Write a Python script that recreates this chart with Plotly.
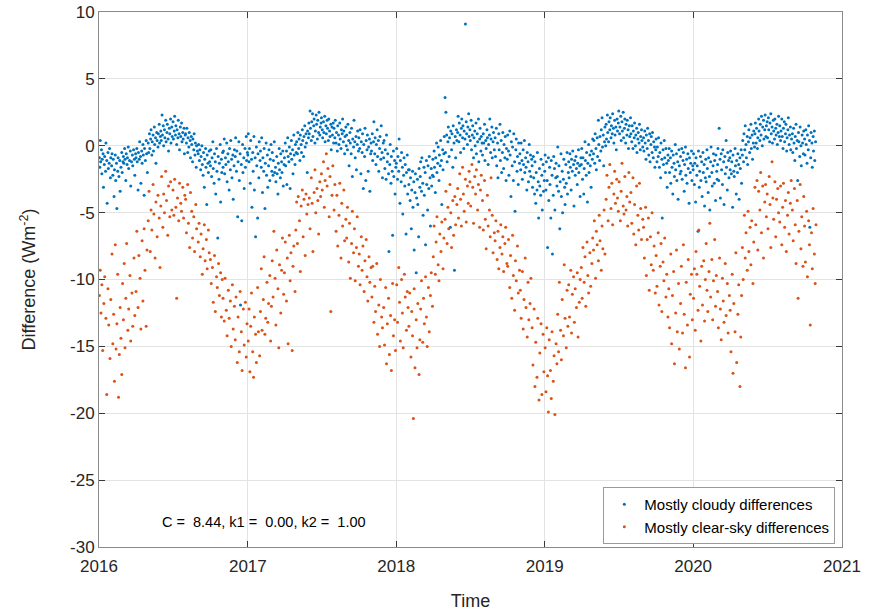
import pandas as pd
import plotly.graph_objects as go

# Daily flux differences, stored per year as (day of year, difference in W m^-2)
cloudy_2016 = [
    (2,-0.9),(3,-1.6),(4,0.4),(5,-1.2),(7,-0.3),(8,-2.1),(9,-1.0),(11,-0.6),(12,-3.1),(14,-1.4),(15,-0.8),(17,-1.9),(18,0.2),(20,-1.1),(21,-4.3),(23,-0.5),(24,-1.7),(26,-1.3),(27,-0.2),(29,-2.4),(30,-0.9),
    (32,-1.5),(33,-0.6),(35,-2.2),(36,-1.0),(38,-3.8),(39,-1.8),(41,-0.7),(42,-2.6),(44,-1.3),(45,-4.7),(47,-1.9),(48,-0.9),(50,-2.3),(52,-1.1),(53,-3.4),(55,-1.6),(57,-0.5),(58,-2.0),(60,-1.2),
    (61,-0.8),(62,-1.3),(64,-0.2),(65,-1.0),(67,-2.6),(68,-0.6),(70,-1.4),(71,-0.9),(73,-0.1),(74,-1.7),(76,-1.1),(78,-0.4),(79,-3.0),(81,-1.2),(83,-0.7),(84,-1.5),(86,-0.3),(88,-1.0),(89,-2.2),(91,-0.6),
    (92,-0.9),(94,-0.2),(95,-1.2),(97,-3.3),(98,-0.5),(100,-1.0),(101,0.3),(103,-0.8),(104,-2.8),(106,-0.4),(107,-1.3),(109,0.1),(110,-0.7),(112,-3.7),(113,-0.2),(115,-1.1),(117,0.4),(118,-0.6),(120,-2.0),
    (122,0.2),(123,-0.5),(125,0.9),(126,-0.2),(128,0.5),(129,1.2),(131,-0.7),(132,0.3),(134,0.8),(135,-0.4),(137,1.4),(138,0.1),(140,0.6),(141,-1.3),(143,1.0),(144,0.4),(146,-0.1),(147,0.9),(149,1.6),(150,0.2),(152,0.7),
    (153,1.1),(154,0.4),(156,2.3),(157,0.8),(159,1.5),(160,0.0),(162,1.2),(163,0.6),(165,1.9),(166,0.3),(168,1.0),(169,1.6),(171,0.5),(172,-0.4),(174,1.3),(175,0.9),(177,2.0),(178,0.2),(180,1.4),(181,0.7),
    (183,1.8),(184,0.5),(186,1.1),(187,2.2),(189,0.8),(190,1.5),(192,0.1),(193,1.2),(195,0.6),(196,1.9),(198,0.9),(199,-0.3),(201,1.4),(202,0.7),(204,1.7),(205,0.3),(207,1.0),(208,0.5),(210,1.3),(211,-0.6),(213,0.8),
    (214,0.9),(216,0.2),(217,1.3),(219,-0.5),(220,0.6),(222,-0.1),(223,1.0),(225,0.4),(226,-0.9),(228,0.7),(229,0.1),(231,-1.2),(232,0.5),(234,-0.3),(235,0.9),(237,-0.7),(238,0.2),(240,-1.6),(241,0.0),(243,-0.4),
    (245,-0.6),(246,0.1),(248,-1.1),(249,-0.3),(251,-1.8),(252,-0.8),(254,0.0),(255,-1.4),(257,-2.2),(258,-0.5),(260,-3.1),(261,-1.0),(263,-0.2),(264,-1.6),(266,-4.4),(267,-0.7),(269,-1.3),(270,-2.0),(272,-0.4),(273,-1.2),
    (275,-1.5),(276,-0.3),(278,-2.3),(279,-0.9),(281,0.3),(282,-1.7),(284,-2.8),(285,-0.6),(287,-1.2),(288,-3.6),(290,-0.2),(291,-1.9),(293,-6.9),(294,-0.8),(296,-2.5),(297,-1.3),(299,0.1),(300,-4.2),(302,-1.0),(303,-2.0),(305,-0.5),
    (306,-1.6),(307,-0.4),(309,0.5),(310,-2.1),(312,-0.9),(313,-1.4),(315,0.2),(316,-2.7),(318,-0.6),(319,-1.2),(321,-3.3),(322,-0.2),(324,-1.8),(325,0.4),(327,-1.0),(328,-2.4),(330,-0.7),(331,-4.0),(333,-1.5),(334,-0.3),
    (336,-0.8),(337,0.6),(339,-1.9),(340,-0.4),(342,-5.3),(343,-1.2),(345,0.3),(346,-2.6),(348,-0.6),(349,-11.9),(351,-1.4),(352,-5.6),(354,0.1),(355,-2.0),(357,-0.9),(358,-3.2),(360,-0.2),(361,-1.6),(363,0.7),(364,-1.1),(366,-0.5),
]
clear_2016 = [
    (2,-11.2),(4,-9.3),(6,-12.5),(8,-10.4),(10,-15.3),(13,-11.8),(15,-9.8),(18,-12.9),(20,-18.6),(23,-10.7),(25,-13.4),(28,-15.9),(30,-11.5),
    (33,-8.1),(35,-14.8),(37,-12.6),(39,-17.6),(41,-7.4),(43,-15.2),(45,-13.3),(47,-9.6),(49,-18.8),(51,-15.6),(53,-12.1),(55,-14.4),(57,-17.1),(59,-10.3),
    (61,-13.0),(63,-8.8),(65,-15.1),(67,-11.4),(69,-7.3),(72,-13.8),(74,-12.2),(77,-9.7),(79,-14.6),(82,-11.0),(84,-13.5),(87,-8.4),(89,-12.7),
    (92,-10.9),(94,-6.4),(97,-12.1),(99,-8.2),(102,-9.9),(104,-13.7),(107,-7.1),(109,-11.6),(112,-6.2),(114,-9.3),(117,-13.5),(119,-7.8),
    (122,-5.6),(124,-3.4),(127,-7.9),(129,-4.8),(131,-6.3),(134,-2.9),(136,-5.1),(139,-8.4),(141,-4.2),(144,-6.8),(146,-3.7),(149,-5.4),(151,-9.1),
    (153,-4.5),(155,-2.3),(158,-6.1),(160,-3.6),(162,-5.0),(165,-1.9),(167,-4.1),(170,-6.7),(172,-3.0),(175,-5.3),(177,-2.7),(180,-4.8),
    (183,-3.3),(185,-5.2),(187,-2.5),(190,-4.6),(192,-11.4),(194,-3.9),(197,-5.6),(199,-2.8),(202,-4.3),(204,-4.9),(207,-3.1),(209,-5.4),(212,-3.7),
    (214,-4.0),(216,-6.5),(219,-2.9),(221,-5.8),(224,-7.6),(226,-3.5),(229,-4.9),(231,-6.9),(234,-5.3),(236,-7.9),(239,-4.4),(241,-6.2),
    (245,-7.2),(247,-5.8),(250,-8.3),(252,-6.6),(255,-9.6),(257,-7.7),(260,-5.9),(262,-8.6),(265,-7.0),(267,-9.2),(270,-6.3),(272,-8.0),
    (275,-8.5),(277,-10.3),(280,-9.1),(282,-11.7),(285,-8.2),(287,-12.4),(290,-9.8),(292,-10.6),(295,-8.8),(297,-11.2),(300,-9.5),(302,-12.8),(304,-10.0),
    (306,-11.4),(309,-13.1),(311,-9.9),(314,-12.3),(316,-14.2),(319,-10.8),(321,-12.9),(324,-11.6),(326,-15.0),(329,-10.4),(331,-13.7),(334,-12.0),
    (336,-14.5),(338,-11.3),(341,-16.2),(343,-12.8),(346,-15.4),(348,-10.9),(351,-13.9),(353,-16.8),(356,-12.2),(358,-14.9),(361,-11.7),(363,-15.8),(365,-13.3),
]

cloudy_2017 = [
    (1,-0.7),(2,0.9),(4,-1.2),(5,-0.2),(7,-2.8),(8,0.4),(10,-1.0),(11,-4.6),(13,-0.5),(14,-1.9),(16,0.7),(17,-3.3),(19,-0.9),(20,-6.8),(22,-0.1),(23,-1.5),(25,-5.4),(26,-0.6),(28,-2.4),(29,0.3),(31,-1.1),
    (32,-0.4),(34,-1.6),(35,0.6),(37,-3.5),(38,-0.9),(40,-1.9),(41,-0.2),(43,-4.7),(44,-1.3),(46,0.2),(47,-2.2),(49,-0.7),(50,-3.1),(52,-1.5),(53,-0.3),(55,-2.6),(56,-1.0),(58,0.1),
    (60,-1.9),(61,-0.5),(63,-2.2),(64,-1.1),(66,0.3),(67,-2.0),(69,-1.6),(70,-2.7),(72,-0.8),(73,-2.1),(75,-3.6),(76,-1.3),(78,-0.2),(79,-1.8),(81,-2.4),(82,-0.6),(84,-1.2),(85,-2.0),(87,-0.4),(88,-3.0),(90,-1.4),
    (91,-0.9),(93,0.2),(94,-1.5),(96,-0.4),(97,-2.9),(99,0.6),(100,-0.8),(102,-1.2),(103,-0.1),(105,-3.2),(106,-0.6),(108,0.4),(109,-1.0),(111,-0.3),(112,-2.1),(114,0.8),(115,-0.7),(117,-1.4),(118,0.1),(120,-0.5),
    (121,0.3),(123,-0.6),(124,1.0),(126,-0.2),(127,0.5),(129,-1.1),(130,0.8),(132,0.1),(133,-0.5),(135,1.2),(136,0.4),(138,-0.8),(139,0.7),(141,1.5),(142,-0.1),(144,0.9),(145,0.2),(147,-2.0),(148,1.1),(150,0.6),(151,1.7),
    (152,0.9),(154,2.6),(155,1.3),(157,0.4),(158,1.8),(160,2.4),(161,0.7),(163,1.5),(164,2.0),(166,0.2),(167,1.1),(169,2.3),(170,1.6),(172,0.5),(173,1.9),(175,1.0),(176,2.5),(178,0.8),(179,1.4),(181,1.7),
    (182,2.1),(184,1.2),(185,0.6),(187,1.8),(188,1.0),(190,2.2),(191,0.3),(193,1.5),(194,0.9),(196,1.9),(197,1.3),(199,0.4),(200,2.0),(202,1.1),(203,0.7),(205,1.6),(206,-0.3),(208,1.4),(209,0.8),(211,1.7),(212,0.2),
    (213,1.3),(215,0.6),(216,1.9),(218,0.2),(219,1.0),(221,-0.4),(222,1.5),(224,0.8),(225,0.1),(227,1.7),(228,0.5),(230,-0.2),(231,1.2),(233,0.9),(234,2.0),(236,0.3),(237,1.1),(239,-0.6),(240,0.7),(242,1.4),(243,0.0),
    (244,0.8),(246,-0.3),(247,1.6),(249,0.4),(250,-1.5),(252,1.0),(253,0.2),(255,-0.6),(256,1.3),(258,-2.3),(259,0.5),(261,-0.1),(262,1.9),(264,0.3),(265,-0.9),(267,0.7),(268,-1.8),(270,0.1),(271,1.1),(273,-0.4),
    (274,0.6),(276,-0.2),(277,1.2),(279,-2.1),(280,0.3),(282,-0.5),(283,0.9),(285,-3.2),(286,0.1),(288,-0.8),(289,1.3),(291,-2.6),(292,0.4),(294,-0.3),(295,0.8),(297,-1.9),(298,-0.1),(300,0.5),(301,-3.4),(303,-0.6),(304,0.2),
    (305,-0.4),(307,0.9),(308,-1.1),(310,0.3),(311,1.8),(313,-0.6),(314,0.6),(316,-1.4),(317,0.1),(319,1.2),(320,-0.8),(322,0.4),(323,-1.9),(325,-0.2),(326,0.7),(328,-1.0),(329,1.5),(331,-0.5),(332,-2.4),(334,0.2),
    (335,-0.9),(336,0.4),(338,-1.7),(339,-0.3),(341,-2.5),(342,0.8),(344,-1.2),(345,-0.6),(347,-2.1),(348,-7.9),(350,-1.4),(351,0.1),(353,-2.8),(354,-0.8),(356,-1.9),(357,-6.7),(359,-0.4),(360,-2.3),(362,-1.1),(363,-3.6),(365,-1.6),
]
clear_2017 = [
    (2,-14.6),(4,-12.2),(6,-16.9),(8,-13.5),(10,-11.0),(13,-15.4),(15,-17.3),(17,-12.8),(20,-14.1),(22,-16.2),(25,-10.6),(27,-13.9),(30,-15.7),
    (32,-12.4),(34,-9.2),(36,-13.8),(39,-11.5),(41,-8.3),(43,-14.1),(45,-12.9),(48,-10.2),(50,-13.2),(52,-11.8),(55,-9.7),(57,-14.6),(59,-12.0),
    (61,-8.6),(63,-11.3),(65,-6.4),(68,-9.9),(70,-13.4),(72,-7.8),(75,-10.7),(77,-15.1),(79,-8.9),(82,-12.5),(84,-9.3),(86,-6.9),(89,-11.1),
    (91,-9.5),(93,-7.2),(96,-11.6),(98,-8.4),(100,-14.8),(103,-6.7),(105,-10.1),(107,-8.0),(110,-15.3),(112,-9.0),(114,-7.5),(117,-10.9),(119,-6.3),
    (121,-4.2),(123,-7.3),(125,-3.8),(128,-5.6),(130,-9.4),(132,-4.5),(135,-3.3),(137,-6.8),(139,-4.0),(142,-8.2),(144,-3.6),(146,-5.1),(149,-4.4),
    (152,-3.9),(154,-6.2),(157,-2.4),(159,-4.3),(161,-7.9),(164,-3.5),(166,-1.8),(168,-5.0),(171,-3.2),(173,-4.1),(175,-6.6),(178,-2.7),(180,-3.8),
    (182,-2.1),(184,-3.3),(187,-1.2),(189,-4.6),(191,-2.6),(194,-0.6),(196,-3.0),(198,-1.7),(201,-5.3),(203,-2.3),(205,-12.4),(208,-3.7),(210,-1.5),
    (213,-4.8),(215,-2.9),(218,-6.4),(220,-3.7),(222,-7.5),(225,-5.2),(227,-2.8),(230,-8.4),(232,-4.3),(234,-6.0),(237,-3.3),(239,-7.1),(242,-5.5),
    (244,-6.9),(246,-4.6),(249,-8.7),(251,-5.8),(253,-9.9),(256,-7.3),(258,-4.9),(261,-8.0),(263,-6.2),(265,-10.1),(268,-7.6),(270,-5.3),(273,-9.0),
    (275,-8.1),(277,-10.4),(280,-6.8),(282,-9.3),(284,-7.5),(287,-10.9),(289,-8.6),(292,-7.0),(294,-9.8),(296,-11.6),(299,-8.3),(301,-10.2),(304,-9.1),
    (306,-11.3),(308,-9.0),(311,-13.2),(313,-10.5),(315,-12.4),(318,-8.8),(320,-14.1),(323,-11.9),(325,-15.0),(327,-10.0),(330,-12.8),(332,-13.6),
    (335,-12.1),(337,-14.9),(340,-10.6),(342,-16.3),(344,-13.3),(347,-11.4),(349,-15.6),(352,-12.7),(354,-16.8),(357,-10.3),(359,-14.2),(362,-13.0),(364,-15.3),
]

cloudy_2018 = [
    (1,-1.3),(2,-0.2),(4,-2.5),(5,-0.8),(7,-1.9),(8,0.5),(10,-4.3),(11,-1.1),(13,-2.7),(14,-0.5),(16,-1.6),(17,-5.1),(19,-2.2),(20,-0.9),(22,-3.0),(23,-1.4),(25,-6.6),(26,-2.0),(28,-0.7),(29,-3.6),(31,-1.8),
    (32,-2.9),(33,-1.8),(35,-4.1),(36,-2.4),(38,-6.2),(39,-3.3),(41,-1.9),(42,-4.6),(44,-2.7),(45,-7.8),(47,-3.5),(48,-2.1),(50,-9.5),(51,-3.9),(53,-2.5),(54,-4.4),(56,-6.8),(57,-1.7),(59,-3.1),
    (60,-2.3),(61,-1.2),(63,-3.4),(64,-0.9),(66,-2.8),(67,-5.2),(69,-1.6),(70,-3.7),(72,-2.0),(73,-7.4),(75,-1.1),(76,-2.9),(78,-4.8),(79,-1.5),(81,-3.2),(82,-0.8),(84,-2.4),(85,-6.0),(87,-1.7),(88,-3.0),(90,-2.2),
    (91,-1.0),(92,-2.3),(94,-0.4),(95,-1.6),(97,-3.5),(98,-0.9),(100,0.2),(101,-2.0),(103,-1.3),(104,-0.1),(106,-2.6),(107,-0.7),(109,-1.5),(110,0.4),(112,-1.1),(113,-4.4),(115,-0.3),(116,-1.8),(118,-0.6),(119,0.7),
    (121,3.6),(122,-0.5),(123,2.5),(125,0.8),(126,-1.2),(128,0.3),(129,1.4),(131,-0.8),(132,0.6),(134,-6.1),(135,1.1),(137,-0.3),(138,0.9),(140,-1.6),(141,1.5),(143,0.2),(144,-9.3),(146,0.7),(147,-0.9),(149,1.2),(150,0.4),
    (152,1.0),(153,2.2),(155,0.3),(156,1.7),(158,0.8),(159,-0.5),(161,1.3),(162,2.0),(164,0.6),(165,1.5),(167,-0.2),(168,1.1),(170,0.5),(171,9.1),(173,1.8),(174,0.9),(176,0.1),(177,1.4),(179,2.4),(180,0.7),
    (182,1.2),(183,0.4),(185,1.9),(186,-0.3),(188,0.8),(189,1.5),(191,-0.9),(192,0.6),(194,1.1),(195,0.0),(197,1.7),(198,-0.6),(200,0.9),(201,0.3),(203,2.0),(204,-1.2),(206,0.5),(207,1.3),(209,-0.4),(210,0.7),(212,0.2),
    (213,-0.7),(215,0.9),(216,0.2),(218,1.6),(219,-1.1),(221,0.4),(222,-0.2),(224,1.2),(225,0.6),(227,-1.4),(228,0.1),(230,0.8),(231,2.0),(233,-0.5),(234,0.5),(236,1.4),(237,-0.9),(239,0.3),(240,1.0),(242,-0.3),
    (244,0.6),(245,-0.8),(247,1.3),(248,-1.5),(250,0.2),(251,-2.4),(253,0.9),(254,-0.3),(256,1.6),(257,-1.1),(259,0.4),(260,-2.0),(262,-0.5),(263,1.0),(265,-1.7),(266,0.1),(268,-0.9),(269,0.7),(271,-2.6),(272,-0.2),
    (274,-1.0),(275,0.8),(277,-0.4),(278,-2.2),(280,1.1),(281,-0.7),(283,-3.8),(284,0.3),(286,-1.5),(287,-0.1),(289,-2.6),(290,0.9),(292,-1.2),(293,-4.9),(295,-0.3),(296,0.5),(298,-1.9),(299,-0.8),(301,-2.9),(302,0.2),(304,-1.3),
    (305,-0.6),(307,-1.8),(308,0.2),(310,-1.1),(311,-2.5),(313,-0.3),(314,-1.4),(316,0.4),(317,-2.0),(319,-0.9),(320,-1.6),(322,-3.3),(323,-0.5),(325,-1.2),(326,-2.7),(328,0.1),(329,-1.9),(331,-0.7),(332,-2.3),(334,-1.0),
    (335,-1.5),(336,-3.1),(338,-0.8),(339,-2.4),(341,-3.6),(342,-1.2),(344,-4.3),(345,-2.0),(347,-3.3),(348,-0.5),(350,-2.7),(351,-5.4),(353,-1.7),(354,-3.0),(356,-3.7),(357,-1.0),(359,-2.2),(360,-4.8),(362,-1.4),(363,-3.4),(365,-2.6),
]
clear_2018 = [
    (2,-10.4),(4,-13.2),(7,-9.1),(9,-11.7),(11,-14.6),(14,-10.0),(16,-12.5),(18,-15.1),(21,-9.6),(23,-11.3),(26,-13.8),(28,-10.9),(30,-12.1),
    (32,-13.5),(34,-11.0),(37,-15.8),(39,-12.4),(41,-14.2),(43,-20.4),(45,-10.7),(47,-16.6),(50,-13.0),(52,-15.1),(54,-11.8),(57,-17.1),(59,-14.5),
    (61,-12.2),(63,-10.1),(66,-14.7),(68,-11.4),(70,-13.3),(73,-9.8),(75,-12.8),(77,-15.0),(80,-10.6),(82,-13.9),(85,-11.2),(87,-9.5),(90,-12.0),
    (92,-8.3),(94,-6.0),(97,-9.6),(99,-7.2),(101,-5.3),(104,-8.9),(106,-10.1),(108,-6.6),(111,-7.9),(113,-5.7),(116,-9.2),(118,-6.9),
    (121,-5.5),(123,-3.4),(126,-7.3),(128,-4.6),(130,-6.2),(133,-2.9),(135,-5.0),(137,-7.6),(140,-4.1),(142,-6.7),(145,-3.8),(147,-5.9),(150,-4.4),
    (152,-3.2),(154,-5.4),(157,-2.1),(159,-4.0),(161,-6.0),(164,-1.6),(166,-3.6),(168,-4.9),(171,-2.5),(173,-5.7),(176,-3.0),(178,-4.3),(180,-1.9),
    (182,-2.7),(184,-4.5),(187,-1.4),(189,-3.1),(191,-5.8),(194,-2.3),(196,-3.6),(198,-1.8),(201,-4.8),(203,-2.9),(206,-6.1),(208,-3.3),(210,-2.2),
    (213,-4.1),(215,-6.3),(218,-2.6),(220,-5.5),(222,-7.7),(225,-3.7),(227,-6.0),(230,-4.8),(232,-6.8),(234,-2.4),(237,-5.2),(239,-8.0),(242,-6.5),
    (244,-7.1),(246,-5.6),(249,-8.5),(251,-6.4),(253,-9.2),(256,-7.6),(258,-5.9),(261,-8.1),(263,-6.8),(265,-9.4),(268,-7.3),(270,-6.1),(273,-8.8),
    (275,-9.0),(277,-7.0),(280,-10.6),(282,-8.2),(285,-11.4),(287,-6.7),(289,-9.7),(292,-12.3),(294,-8.6),(296,-10.1),(299,-7.5),(301,-11.0),(304,-9.3),
    (306,-10.8),(308,-12.9),(311,-9.4),(313,-13.7),(315,-11.5),(318,-8.4),(320,-12.1),(323,-14.3),(325,-10.2),(327,-13.0),(330,-11.8),(332,-9.9),
    (335,-13.6),(337,-16.4),(340,-12.2),(342,-18.0),(344,-14.7),(347,-17.3),(349,-12.9),(352,-19.0),(354,-15.5),(357,-13.3),(359,-18.6),(362,-14.1),(364,-16.9),
]

cloudy_2019 = [
    (1,-1.9),(2,-0.7),(4,-3.3),(5,-1.2),(7,-2.6),(8,-7.6),(10,-0.9),(11,-4.1),(13,-1.6),(14,-2.9),(16,-5.4),(17,-1.1),(19,-2.2),(20,-8.1),(22,-3.7),(23,-0.8),(25,-1.7),(26,-4.8),(28,-2.4),(29,-1.3),(31,-3.0),
    (32,-2.3),(33,-0.1),(35,-3.4),(36,-1.5),(38,-6.2),(39,-2.7),(41,-0.6),(42,-3.8),(44,-1.9),(45,-5.0),(47,-2.5),(48,-1.0),(50,-3.1),(51,-4.4),(53,-1.4),(54,-2.8),(56,-0.5),(57,-3.6),(59,-2.0),
    (60,-1.2),(61,-2.4),(63,-0.6),(64,-1.6),(66,-3.3),(67,-1.0),(69,-1.9),(70,-0.4),(72,-1.4),(73,-4.5),(75,-1.1),(76,-2.2),(78,-0.8),(79,-1.7),(81,-2.9),(82,-1.3),(84,-0.3),(85,-2.0),(87,-1.5),(88,-3.8),(90,-0.9),
    (91,-1.4),(92,-0.2),(94,-2.5),(95,-0.9),(97,-3.6),(98,-1.7),(100,0.3),(101,-1.1),(103,-2.2),(104,-0.5),(106,-4.2),(107,-1.3),(109,0.1),(110,-2.0),(112,-0.7),(113,-1.5),(115,-3.1),(116,-0.4),(118,-1.0),(119,0.5),
    (121,-0.6),(122,0.4),(124,-1.3),(125,0.9),(127,-0.2),(128,-1.8),(130,0.6),(131,-0.8),(133,1.9),(134,0.1),(136,-1.1),(137,0.7),(139,-0.4),(140,1.2),(142,2.1),(143,-0.1),(145,0.8),(146,-1.5),(148,0.3),(149,1.4),(151,0.0),
    (152,1.6),(153,0.5),(155,2.3),(156,1.0),(158,0.3),(159,1.8),(161,1.2),(162,2.1),(164,0.6),(165,1.5),(167,0.9),(168,2.4),(170,1.3),(171,0.2),(173,1.9),(174,0.8),(176,1.4),(177,-0.3),(179,2.0),(180,1.1),
    (182,1.7),(183,2.6),(185,0.9),(186,1.4),(188,2.2),(189,0.4),(191,1.8),(192,1.1),(194,2.5),(195,0.6),(197,1.3),(198,2.0),(200,0.2),(201,1.6),(203,0.8),(204,1.9),(206,1.2),(207,-0.2),(209,1.5),(210,0.7),(212,2.1),
    (213,0.9),(215,0.3),(216,1.5),(218,-0.2),(219,1.1),(221,0.6),(222,1.7),(224,0.0),(225,0.8),(227,1.3),(228,-0.5),(230,0.5),(231,1.0),(233,0.2),(234,1.6),(236,-0.3),(237,0.7),(239,1.2),(240,0.4),(242,-0.1),
    (244,0.6),(245,-0.4),(247,1.1),(248,0.2),(250,-1.0),(251,0.8),(253,-0.2),(254,1.3),(256,0.4),(257,-0.7),(259,0.9),(260,-1.2),(262,0.1),(263,0.7),(265,-0.5),(266,1.0),(268,-0.9),(269,0.3),(271,-0.1),(272,-1.6),
    (274,-0.3),(275,0.5),(277,-1.2),(278,-0.1),(280,-0.8),(281,0.6),(283,-1.6),(284,-0.5),(286,-2.4),(287,0.2),(289,-1.0),(290,-5.4),(292,-0.3),(293,-1.4),(295,0.4),(296,-0.9),(298,-2.0),(299,-0.2),(301,-1.3),(302,-3.1),(304,-0.7),
    (305,-1.1),(307,-0.2),(308,-2.0),(310,-0.9),(311,-2.8),(313,-0.4),(314,-1.6),(316,-3.6),(317,-0.7),(319,-1.3),(320,-2.3),(322,0.1),(323,-1.8),(325,-0.6),(326,-2.6),(328,-1.2),(329,-4.0),(331,-0.3),(332,-1.5),(334,-2.1),
    (335,-0.8),(336,-1.9),(338,-0.2),(339,-2.5),(341,-1.1),(342,-0.5),(344,-3.4),(345,-1.4),(347,-0.1),(348,-2.2),(350,-1.0),(351,-2.8),(353,-0.6),(354,-1.7),(356,-4.3),(357,-0.9),(359,-2.0),(360,-1.3),(362,-0.4),(363,-2.6),(365,-1.5),
]
clear_2019 = [
    (2,-15.1),(4,-18.4),(6,-13.6),(8,-17.2),(10,-19.9),(12,-14.5),(15,-16.8),(17,-18.9),(19,-13.9),(22,-17.6),(24,-15.7),(26,-20.1),(29,-14.8),(31,-16.3),
    (33,-12.6),(35,-15.4),(37,-10.2),(40,-13.8),(42,-16.0),(44,-11.5),(47,-14.2),(49,-8.9),(51,-12.9),(54,-15.1),(56,-10.8),(58,-13.5),
    (60,-10.4),(62,-12.8),(65,-9.3),(67,-14.0),(69,-11.1),(72,-9.8),(74,-13.2),(76,-10.7),(79,-12.1),(81,-9.5),(83,-14.3),(86,-11.7),(88,-10.0),
    (91,-9.1),(93,-11.4),(95,-7.6),(98,-10.2),(100,-8.3),(102,-12.0),(105,-7.2),(107,-9.7),(109,-11.0),(112,-8.0),(114,-10.5),(117,-8.8),(119,-6.9),
    (121,-7.8),(123,-5.6),(126,-9.9),(128,-6.4),(130,-7.4),(133,-8.6),(135,-5.2),(137,-7.1),(140,-9.3),(142,-6.0),(144,-7.7),(147,-4.8),(149,-8.1),
    (152,-4.0),(154,-2.2),(157,-5.6),(159,-3.1),(161,-1.4),(164,-4.7),(166,-2.8),(168,-5.9),(171,-3.6),(173,-1.9),(175,-4.3),(178,-2.5),(180,-3.9),
    (182,-4.9),(184,-2.7),(187,-5.6),(189,-3.4),(191,-1.3),(194,-4.5),(196,-5.1),(198,-2.3),(201,-4.8),(203,-3.8),(205,-6.0),(208,-2.0),(210,-4.2),
    (213,-3.5),(215,-5.8),(218,-2.4),(220,-6.6),(222,-4.4),(225,-7.4),(227,-3.0),(230,-5.2),(232,-6.3),(234,-2.8),(237,-4.7),(239,-7.0),(242,-5.5),
    (244,-6.1),(246,-8.4),(249,-4.6),(251,-9.7),(253,-7.0),(256,-5.4),(258,-10.8),(261,-6.8),(263,-8.9),(265,-5.0),(268,-9.3),(270,-7.5),(273,-11.0),
    (275,-8.2),(277,-10.5),(280,-6.5),(282,-11.9),(285,-9.0),(287,-7.3),(289,-12.4),(292,-8.7),(294,-10.1),(296,-6.9),(299,-11.3),(301,-9.6),(304,-12.8),
    (306,-10.7),(308,-13.6),(311,-8.1),(313,-14.8),(315,-11.2),(318,-9.4),(320,-16.3),(323,-12.5),(325,-7.8),(327,-13.9),(330,-10.3),(332,-15.2),
    (335,-11.8),(337,-9.0),(340,-14.0),(342,-7.4),(344,-12.6),(347,-16.6),(349,-10.2),(352,-13.4),(354,-8.5),(357,-15.8),(359,-11.1),(362,-9.6),(364,-13.0),
]

cloudy_2020 = [
    (1,-1.8),(2,-0.6),(4,-2.9),(5,-1.3),(7,-4.2),(8,-0.9),(10,-2.2),(11,-1.5),(13,-6.4),(14,-0.4),(16,-3.1),(17,-1.9),(19,-0.8),(20,-2.6),(22,-1.2),(23,-3.8),(25,-0.5),(26,-2.0),(28,-1.4),(29,-4.5),(31,-2.4),
    (32,-1.0),(33,-2.7),(35,-0.3),(36,-1.7),(38,-3.5),(39,-0.9),(41,-2.3),(42,-4.8),(44,-1.2),(45,-0.1),(47,-2.0),(48,-3.0),(50,-1.5),(51,-0.6),(53,-2.8),(54,-1.1),(56,-4.1),(57,-0.7),(59,-1.9),(60,-2.5),
    (61,-1.4),(62,-0.2),(64,-2.6),(65,1.3),(67,-1.0),(68,-3.9),(70,-0.6),(71,-1.8),(73,-2.9),(74,-0.3),(76,-1.2),(77,-4.4),(79,-0.8),(80,-2.1),(82,0.4),(83,-1.6),(85,-3.3),(86,-0.5),(88,-1.1),(89,-2.4),(91,-0.9),
    (92,-1.8),(93,-0.4),(95,-2.1),(96,-1.2),(98,-4.6),(99,-0.7),(101,-1.9),(102,-2.3),(104,-0.2),(105,-1.5),(107,-3.6),(108,-1.1),(110,-2.0),(111,-0.6),(113,-1.4),(114,-4.0),(116,-0.9),(117,-1.7),(119,-0.3),(120,-2.8),
    (122,-0.7),(123,0.4),(125,-1.2),(126,0.9),(128,-0.3),(129,1.5),(131,0.1),(132,-0.9),(134,0.7),(135,-1.4),(137,0.3),(138,1.2),(140,-0.5),(141,0.6),(143,1.6),(144,-0.2),(146,0.8),(147,-1.0),(149,0.2),(150,1.1),(152,-0.1),
    (153,0.9),(154,1.7),(156,0.2),(157,1.3),(159,-0.2),(160,0.6),(162,2.0),(163,1.1),(165,0.4),(166,1.6),(168,0.8),(169,2.2),(171,0.0),(172,1.4),(174,1.9),(175,0.5),(177,1.2),(178,2.3),(180,0.7),(181,1.5),
    (183,1.8),(184,0.6),(186,2.1),(187,1.2),(189,0.3),(190,1.7),(192,2.4),(193,0.9),(195,1.4),(196,0.2),(198,1.9),(199,1.1),(201,0.5),(202,2.0),(204,1.3),(205,0.8),(207,1.6),(208,0.1),(210,1.0),(211,2.2),(213,0.7),
    (214,1.5),(216,0.4),(217,1.1),(219,2.0),(220,0.7),(222,-0.2),(223,1.3),(225,1.8),(226,0.3),(228,0.9),(229,1.6),(231,-0.4),(232,0.6),(234,1.2),(235,2.1),(237,0.1),(238,0.8),(240,1.4),(241,-0.3),(243,0.5),
    (245,0.9),(246,-0.5),(248,1.3),(249,0.2),(251,-1.1),(252,0.7),(254,1.6),(255,-0.2),(257,0.4),(258,-2.6),(260,1.0),(261,0.3),(263,-0.8),(264,1.4),(266,0.0),(267,-1.5),(269,0.8),(270,0.2),(272,-0.6),(273,1.1),
    (275,0.5),(276,-0.7),(278,1.2),(279,0.1),(281,-1.3),(282,0.8),(284,-0.3),(285,1.5),(287,0.4),(288,-6.1),(290,-0.9),(291,1.0),(293,0.2),(294,-1.6),(296,0.7),(297,-0.4),(299,1.1),(300,-1.1),(302,0.3),
]
clear_2020 = [
    (2,-11.4),(4,-9.2),(6,-13.8),(8,-7.9),(10,-9.6),(13,-12.3),(15,-6.3),(17,-10.5),(20,-14.6),(22,-9.0),(24,-11.9),(27,-8.6),(29,-13.1),(31,-10.0),
    (33,-7.3),(35,-10.8),(37,-12.4),(40,-9.4),(42,-5.8),(44,-11.3),(47,-8.5),(49,-13.0),(51,-10.1),(54,-7.0),(56,-12.0),(58,-9.7),
    (61,-10.9),(63,-13.6),(66,-8.4),(68,-12.2),(70,-14.5),(73,-9.9),(75,-11.6),(77,-13.2),(80,-8.8),(82,-12.7),(85,-10.3),(87,-14.0),(90,-11.2),
    (92,-12.3),(94,-15.4),(97,-9.6),(99,-17.0),(101,-11.8),(104,-13.9),(106,-8.0),(108,-16.2),(111,-12.6),(113,-10.4),(116,-18.0),(118,-14.3),(120,-11.2),
    (122,-7.6),(124,-10.0),(127,-5.2),(129,-8.4),(131,-6.5),(134,-9.3),(136,-4.9),(138,-7.9),(141,-6.1),(143,-8.9),(145,-5.6),(148,-10.3),(150,-7.2),
    (153,-3.1),(155,-5.9),(158,-2.6),(160,-7.8),(162,-3.4),(165,-4.8),(167,-2.0),(169,-6.5),(172,-3.0),(174,-8.4),(177,-4.2),(179,-2.9),(181,-5.3),
    (183,-3.6),(185,-6.2),(188,-2.3),(190,-4.4),(192,-7.6),(195,-1.2),(197,-3.9),(199,-5.5),(202,-2.7),(204,-6.8),(206,-4.0),(209,-3.2),(211,-5.0),
    (214,-5.7),(216,-3.0),(219,-7.4),(221,-4.6),(223,-2.8),(226,-6.1),(228,-4.1),(230,-7.9),(233,-5.2),(235,-3.5),(237,-6.6),(240,-4.3),(242,-2.6),
    (245,-4.8),(247,-7.1),(250,-3.2),(252,-5.9),(254,-8.8),(257,-4.1),(259,-11.4),(261,-6.4),(264,-2.9),(266,-7.7),(268,-5.3),(271,-9.0),(273,-3.8),
    (275,-6.0),(277,-8.7),(280,-4.9),(282,-9.8),(285,-5.6),(287,-7.4),(289,-13.4),(292,-6.5),(294,-9.2),(296,-4.7),(299,-8.1),(301,-10.3),(303,-5.9),
]

cloudy_by_year = {2016: cloudy_2016, 2017: cloudy_2017, 2018: cloudy_2018, 2019: cloudy_2019, 2020: cloudy_2020}
clear_by_year = {2016: clear_2016, 2017: clear_2017, 2018: clear_2018, 2019: clear_2019, 2020: clear_2020}

series_names = ["Mostly cloudy differences", "Mostly clear-sky differences"]
series_colors = ["#0072BD", "#D95319"]
year_ticks = [2016, 2017, 2018, 2019, 2020, 2021]
diff_ticks = [-30, -25, -20, -15, -10, -5, 0, 5, 10]
fit_label = "C = \u00a08.44, k1 = \u00a00.00, k2 = \u00a01.00"


def to_dates(by_year):
    dates, values = [], []
    for year, pairs in by_year.items():
        start = pd.Timestamp(year=year, month=1, day=1)
        for day, val in pairs:
            dates.append(start + pd.Timedelta(days=day - 1))
            values.append(val)
    return dates, values


font_family = "Liberation Sans, Arial, Helvetica, sans-serif"
text_color = "#262626"

fig = go.Figure()
for by_year, name, color in zip([cloudy_by_year, clear_by_year], series_names, series_colors):
    x, y = to_dates(by_year)
    fig.add_trace(go.Scatter(
        x=x, y=y, mode="markers", name=name,
        marker=dict(color=color, size=3, line=dict(width=0)),
    ))

fig.add_annotation(
    text=fit_label, xref="paper", yref="paper", x=0.082, y=0.047,
    xanchor="left", yanchor="middle", showarrow=False,
    font=dict(family=font_family, size=14.5, color="#000000"),
)

axis_common = dict(
    showline=True, linecolor="#8a8a8a", linewidth=1, mirror="allticks",
    ticks="inside", ticklen=6, tickcolor="#3a3a3a", tickwidth=1,
    showgrid=True, gridcolor="#e3e3e3", gridwidth=1, zeroline=False,
    automargin=False,
    tickfont=dict(family=font_family, size=17, color=text_color),
)

fig.update_xaxes(
    type="date",
    range=[f"{year_ticks[0]}-01-01", f"{year_ticks[-1]}-01-01"],
    tickvals=[f"{yr}-01-01" for yr in year_ticks],
    ticktext=[str(yr) for yr in year_ticks],
    ticklabelstandoff=4,
    title=dict(text="Time", font=dict(family=font_family, size=18, color=text_color), standoff=18),
    **axis_common,
)
fig.update_yaxes(
    range=[-30, 10],
    tickvals=diff_ticks,
    ticktext=[str(v) for v in diff_ticks],
    title=dict(text="Difference (Wm<sup>-2</sup>)", font=dict(family=font_family, size=18, color=text_color), standoff=29),
    **axis_common,
)

fig.update_layout(
    width=875, height=612,
    margin=dict(l=99, r=33, t=12, b=65),
    paper_bgcolor="white", plot_bgcolor="white",
    showlegend=True,
    legend=dict(
        x=0.991, y=0.112, xanchor="right", yanchor="top",
        bgcolor="white", bordercolor="#9a9a9a", borderwidth=1,
        font=dict(family=font_family, size=15, color="#000000"),
        itemsizing="trace", tracegroupgap=0,
    ),
)

fig.write_html("out.html")
